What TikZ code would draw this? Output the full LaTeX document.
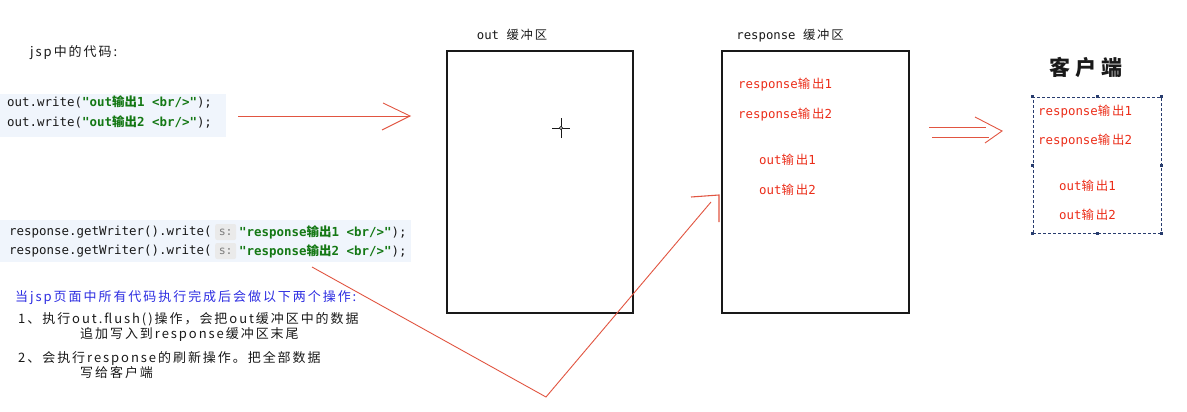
\documentclass[tikz,border=0pt]{standalone}
\usepackage{fontspec}
\setmonofont{DejaVu Sans Mono}
\newfontfamily\cjk{Noto Sans CJK SC}
\newfontfamily\cjkls[LetterSpace=15]{Noto Sans CJK SC}
\newfontfamily\cjkbig[LetterSpace=25]{Noto Sans CJK SC}
\definecolor{codebg}{RGB}{240,245,252}
\definecolor{codegreen}{RGB}{20,120,20}
\definecolor{redtxt}{RGB}{235,45,25}
\definecolor{redline}{RGB}{225,85,65}
\definecolor{bluetxt}{RGB}{45,45,225}
\definecolor{navy}{RGB}{40,60,110}
\definecolor{hintbg}{RGB}{234,234,234}
\definecolor{hinttxt}{RGB}{125,125,125}
\definecolor{blk}{RGB}{25,25,25}
\newcommand\zhb[1]{{\cjk\bfseries #1}}
\newcommand\zh[1]{{\cjkls #1}}
\begin{document}
\begin{tikzpicture}[x=1pt,y=-1pt,
  txt/.style={inner sep=0pt,anchor=west,text=blk},
  code/.style={txt,font=\ttfamily\fontsize{12.45}{14}\selectfont},
  redlbl/.style={inner sep=0pt,anchor=west,text=redtxt,font=\ttfamily\fontsize{12.4}{14}\selectfont},
  note/.style={txt,font=\cjkls\fontsize{13}{15}\selectfont},
  buf/.style={draw=blk,line width=1.1pt,inner sep=0pt},
  redarrow/.style={draw=redline,line width=0.9pt},
  hint/.style={fill=hintbg,rounded corners=2pt,inner sep=0pt,minimum width=21pt,minimum height=16pt,text=hinttxt,font=\ttfamily\fontsize{11.5}{13}\selectfont},
  handle/.style={fill=navy,inner sep=0pt,minimum size=3pt}
]
\useasboundingbox (0,0) rectangle (1187,412);

% heading
\node[note] (jsp) at (30,53) {jsp中的代码:};

% code block 1
\fill[codebg] (0,94) rectangle (226,137);
\node[code] (c1) at (7,102) {out.write(\textcolor{codegreen}{\bfseries"out\zhb{输出}1 <br/>"});};
\node[code] (c2) at (7,122) {out.write(\textcolor{codegreen}{\bfseries"out\zhb{输出}2 <br/>"});};

% code block 2
\fill[codebg] (0,220) rectangle (411,262);
\node[code] (r1) at (9,232) {response.getWriter().write(};
\node[hint,anchor=west] (h1) at (215,232) {s:};
\node[code] (r1s) at (239,232) {\textcolor{codegreen}{\bfseries"response\zhb{输出}1 <br/>"});};
\node[code] (r2) at (9,251) {response.getWriter().write(};
\node[hint,anchor=west] (h2) at (215,251) {s:};
\node[code] (r2s) at (239,251) {\textcolor{codegreen}{\bfseries"response\zhb{输出}2 <br/>"});};

% notes
\node[note,text=bluetxt] (n0) at (15,298) {当jsp页面中所有代码执行完成后会做以下两个操作:};
\node[note] (n1) at (18,319) {1、执行out.flush()操作，会把out缓冲区中的数据};
\node[note] (n2) at (80,334) {追加写入到response缓冲区末尾};
\node[note] (n3) at (18,358) {2、会执行response的刷新操作。把全部数据};
\node[note] (n4) at (80,373) {写给客户端};

% out buffer
\node[buf,minimum width=186pt,minimum height=262pt] (outbuf) at (540,182) {};
\node[inner sep=0pt,text=blk,font=\ttfamily\fontsize{12.3}{14}\selectfont] (outlbl) at (512,35) {out \zh{缓冲区}};

% cursor
\coordinate (cur) at (561,128);
\draw[blk,line width=0.8pt] ([xshift=-9pt]cur) -- ([xshift=9pt]cur);
\draw[blk,line width=0.8pt] ([yshift=-10pt]cur) -- ([yshift=10pt]cur);
\draw[blk,line width=0.6pt,fill=white] (cur) circle (1.6pt);

% response buffer
\node[buf,minimum width=187pt,minimum height=262pt] (respbuf) at (815.5,182) {};
\node[inner sep=0pt,text=blk,font=\ttfamily\fontsize{12.3}{14}\selectfont] (resplbl) at (790,36) {response \zh{缓冲区}};
\node[redlbl] (b1) at (738,85) {response\zh{输出}1};
\node[redlbl] (b2) at (738,115) {response\zh{输出}2};
\node[redlbl] (b3) at (759,160) {out\zh{输出}1};
\node[redlbl] (b4) at (759,190) {out\zh{输出}2};

% client
\node[inner sep=0pt,text=blk,font=\cjkbig\bfseries\fontsize{21}{24}\selectfont] (client) at (1086,67) {客户端};
\node[draw=navy,dashed,dash pattern=on 3pt off 2pt,line width=0.8pt,minimum width=128pt,minimum height=136pt,inner sep=0pt] (cbox) at (1097,165) {};
\foreach \a in {north west,north,north east,west,east,south west,south,south east}
  \node[handle] at (cbox.\a) {};
\node[redlbl] (k1) at (1038,112) {response\zh{输出}1};
\node[redlbl] (k2) at (1038,141) {response\zh{输出}2};
\node[redlbl] (k3) at (1059,186) {out\zh{输出}1};
\node[redlbl] (k4) at (1059,215) {out\zh{输出}2};

% arrow 1: code -> out buffer
\coordinate (a1s) at (238,116);
\coordinate (a1e) at (410,116);
\coordinate (a1u) at (383,103);
\coordinate (a1d) at (382,130);
\draw[redarrow] (a1s) -- (a1e);
\draw[redarrow] (a1u) -- (a1e) -- (a1d);

% V line: response code -> response buffer
\coordinate (vs) at (312,267);
\coordinate (vb) at (546,397);
\coordinate (vt) at (711,202);
\coordinate (tk1) at (691,197);
\coordinate (tk2) at (719,195);
\coordinate (tk3) at (719,222);
\draw[redarrow] (vs) -- (vb) -- (vt);
\draw[redarrow,line width=1.1pt] (tk1) -- (tk2) -- (tk3);

% double arrow: response buffer -> client
\coordinate (d1s) at (929,127);
\coordinate (d1e) at (986,127);
\coordinate (d2s) at (932,137);
\coordinate (d2e) at (989,137);
\coordinate (du) at (975,117);
\coordinate (dt) at (1002,131);
\coordinate (dd) at (985,143);
\draw[redarrow] (d1s) -- (d1e);
\draw[redarrow] (d2s) -- (d2e);
\draw[redarrow] (du) -- (dt) -- (dd);
\end{tikzpicture}
\end{document}
